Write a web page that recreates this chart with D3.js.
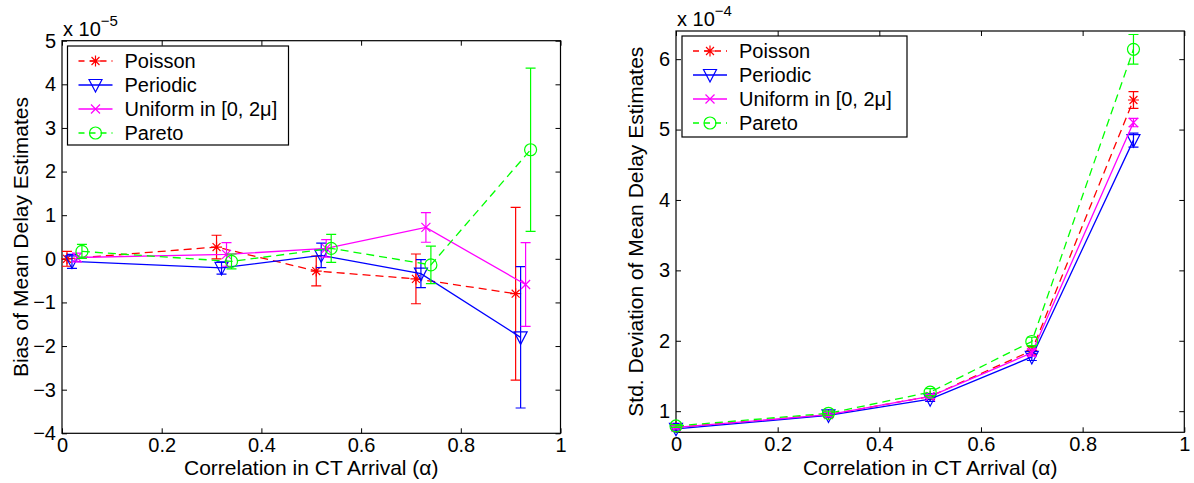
<!DOCTYPE html>
<html>
<head>
<meta charset="utf-8">
<script src="https://cdn.jsdelivr.net/npm/d3@7"></script>
<style>
  body { margin: 0; background: #fff; }
  svg { display: block; font-family: "Liberation Sans", Arial, Helvetica, sans-serif; }
  .tick text { fill: #000; }
  .tick line, .domain { stroke: #000; }
</style>
</head>
<body>
<svg id="chart" width="1194" height="483"></svg>
<script>
// --- data: left panel (bias, x 1e-5) ---
const seriesNames = ["Poisson", "Periodic", "Uniform in [0, 2\u03bc]", "Pareto"];

const biasAlphaPoisson  = [0.01, 0.31, 0.51, 0.71, 0.91];
const biasAlphaPeriodic = [0.02, 0.32, 0.52, 0.72, 0.92];
const biasAlphaUniform  = [0.03, 0.33, 0.53, 0.73, 0.93];
const biasAlphaPareto   = [0.04, 0.34, 0.54, 0.74, 0.94];

const biasPoisson  = [0.00, 0.27, -0.28, -0.46, -0.80];
const biasPeriodic = [-0.06, -0.21, 0.08, -0.34, -1.80];
const biasUniform  = [0.03, 0.10, 0.24, 0.72, -0.59];
const biasPareto   = [0.17, -0.06, 0.24, -0.14, 2.50];

const biasErrPoisson  = [0.17, 0.27, 0.34, 0.57, 1.98];
const biasErrPeriodic = [0.16, 0.14, 0.28, 0.32, 1.62];
const biasErrUniform  = [0.10, 0.27, 0.20, 0.34, 0.96];
const biasErrPareto   = [0.16, 0.17, 0.32, 0.43, 1.87];

// --- data: right panel (std. deviation, x 1e-4) ---
const stdAlpha = [0, 0.3, 0.5, 0.7, 0.9];

const stdPoisson  = [0.77, 0.95, 1.21, 1.86, 5.42];
const stdPeriodic = [0.75, 0.94, 1.17, 1.77, 4.85];
const stdUniform  = [0.77, 0.95, 1.21, 1.83, 5.10];
const stdPareto   = [0.79, 0.97, 1.27, 1.99, 6.14];

const stdErrPoisson  = [0.03, 0.03, 0.04, 0.06, 0.12];
const stdErrPeriodic = [0.02, 0.03, 0.03, 0.05, 0.10];
const stdErrUniform  = [0.02, 0.03, 0.03, 0.05, 0.06];
const stdErrPareto   = [0.02, 0.03, 0.05, 0.06, 0.21];

// --- ticks ---
const xTicks = [0, 0.2, 0.4, 0.6, 0.8, 1];
const xTickLabels = ["0", "0.2", "0.4", "0.6", "0.8", "1"];
const biasTicks = [-4, -3, -2, -1, 0, 1, 2, 3, 4, 5];
const biasTickLabels = ["\u22124", "\u22123", "\u22122", "\u22121", "0", "1", "2", "3", "4", "5"];
const stdTicks = [1, 2, 3, 4, 5, 6];
const stdTickLabels = ["1", "2", "3", "4", "5", "6"];

const xLabel = "Correlation in CT Arrival (\u03b1)";

const styles = [
    { color: "#ff0000", dash: "8,5", marker: "star" },
    { color: "#0000ff", dash: null, marker: "tri" },
    { color: "#ff00ff", dash: null, marker: "x" },
    { color: "#00ff00", dash: "8,5", marker: "circle" }
];

const svg = d3.select("#chart");

function drawMarker(g, type, cx, cy, color) {
    if (type === "star") {
        const r = 5.5, d = r * 0.72;
        g.append("path")
            .attr("d", `M${cx - r},${cy}H${cx + r}M${cx},${cy - r}V${cy + r}` +
                `M${cx - d},${cy - d}L${cx + d},${cy + d}M${cx - d},${cy + d}L${cx + d},${cy - d}`)
            .attr("stroke", color).attr("stroke-width", 1.2).attr("fill", "none");
    } else if (type === "x") {
        const d = 4.5;
        g.append("path")
            .attr("d", `M${cx - d},${cy - d}L${cx + d},${cy + d}M${cx - d},${cy + d}L${cx + d},${cy - d}`)
            .attr("stroke", color).attr("stroke-width", 1.2).attr("fill", "none");
    } else if (type === "tri") {
        const w = 6.5, h = 5.5;
        g.append("path")
            .attr("d", `M${cx - w},${cy - h}L${cx + w},${cy - h}L${cx},${cy + h + 1.5}Z`)
            .attr("stroke", color).attr("stroke-width", 1.2).attr("fill", "none");
    } else {
        g.append("circle")
            .attr("cx", cx).attr("cy", cy).attr("r", 6)
            .attr("stroke", color).attr("stroke-width", 1.2).attr("fill", "none");
    }
}

function drawPanel(p) {
    const x = d3.scaleLinear().domain([0, 1]).range([p.left, p.right]);
    const y = d3.scaleLinear().domain(p.yDomain).range([p.bottom, p.top]);
    const g = svg.append("g");

    // axes with inward ticks on all four sides
    g.append("g")
        .attr("transform", `translate(0,${p.bottom})`)
        .call(d3.axisBottom(x).tickValues(xTicks).tickFormat((d, i) => xTickLabels[i])
            .tickSizeInner(-5).tickSizeOuter(0).tickPadding(5));
    g.append("g")
        .attr("transform", `translate(0,${p.top})`)
        .call(d3.axisTop(x).tickValues(xTicks).tickFormat("").tickSizeInner(-5).tickSizeOuter(0));
    g.append("g")
        .attr("transform", `translate(${p.left},0)`)
        .call(d3.axisLeft(y).tickValues(p.yTicks).tickFormat((d, i) => p.yTickLabels[i])
            .tickSizeInner(-5).tickSizeOuter(0).tickPadding(6));
    g.append("g")
        .attr("transform", `translate(${p.right},0)`)
        .call(d3.axisRight(y).tickValues(p.yTicks).tickFormat("").tickSizeInner(-5).tickSizeOuter(0));
    g.selectAll(".tick text").attr("font-size", 20);
    g.selectAll(".domain").remove();

    g.append("rect")
        .attr("x", p.left).attr("y", p.top)
        .attr("width", p.right - p.left).attr("height", p.bottom - p.top)
        .attr("fill", "none").attr("stroke", "#000").attr("stroke-width", 1.2);

    // series
    p.series.forEach((s, k) => {
        const st = styles[k];
        const pts = s.xs.map((xv, i) => ({ x: xv, y: s.ys[i], e: s.es[i] }));
        const sg = g.append("g");
        pts.forEach(d => {
            const cx = x(d.x);
            sg.append("path")
                .attr("d", `M${cx},${y(d.y - d.e)}V${y(d.y + d.e)}` +
                    `M${cx - 5},${y(d.y - d.e)}H${cx + 5}M${cx - 5},${y(d.y + d.e)}H${cx + 5}`)
                .attr("stroke", st.color).attr("stroke-width", 1.2).attr("fill", "none");
        });
        sg.append("path")
            .datum(pts)
            .attr("d", d3.line().x(d => x(d.x)).y(d => y(d.y)))
            .attr("fill", "none")
            .attr("stroke", st.color)
            .attr("stroke-width", 1.3)
            .attr("stroke-dasharray", st.dash);
        pts.forEach(d => drawMarker(sg, st.marker, x(d.x), y(d.y), st.color));
    });

    // exponent label
    const ex = g.append("text")
        .attr("x", p.left + 1).attr("y", p.expY)
        .attr("font-size", 20);
    ex.append("tspan").text("x 10");
    ex.append("tspan").attr("dy", -10).attr("font-size", 15).text(p.exp);

    // axis labels
    g.append("text")
        .attr("x", (p.left + p.right) / 2).attr("y", 475)
        .attr("text-anchor", "middle").attr("font-size", 21)
        .text(xLabel);
    g.append("text")
        .attr("transform", `translate(${p.yLabelX},${(p.top + p.bottom) / 2}) rotate(-90)`)
        .attr("text-anchor", "middle").attr("font-size", 21)
        .text(p.yLabel);

    // legend
    const lg = g.append("g").attr("transform", `translate(${p.legX},${p.legY})`);
    lg.append("rect")
        .attr("width", p.legW).attr("height", p.legH)
        .attr("fill", "#fff").attr("stroke", "#000").attr("stroke-width", 1.2);
    seriesNames.forEach((name, k) => {
        const st = styles[k];
        const ry = 15 + k * 24;
        lg.append("line")
            .attr("x1", 11).attr("x2", 45).attr("y1", ry).attr("y2", ry)
            .attr("stroke", st.color).attr("stroke-width", 1.3)
            .attr("stroke-dasharray", st.dash ? "6,5" : null);
        drawMarker(lg, st.marker, 28, ry, st.color);
        lg.append("text")
            .attr("x", 57).attr("y", ry + 7)
            .attr("font-size", 20)
            .text(name);
    });
}

drawPanel({
    left: 62, right: 560.5, top: 40.7, bottom: 433.3,
    yDomain: [-4, 5], yTicks: biasTicks, yTickLabels: biasTickLabels,
    exp: "\u22125", expY: 36,
    yLabel: "Bias of Mean Delay Estimates", yLabelX: 28,
    legX: 67.5, legY: 46, legW: 221, legH: 99,
    series: [
        { xs: biasAlphaPoisson, ys: biasPoisson, es: biasErrPoisson },
        { xs: biasAlphaPeriodic, ys: biasPeriodic, es: biasErrPeriodic },
        { xs: biasAlphaUniform, ys: biasUniform, es: biasErrUniform },
        { xs: biasAlphaPareto, ys: biasPareto, es: biasErrPareto }
    ]
});

drawPanel({
    left: 676, right: 1184.3, top: 31, bottom: 432.3,
    yDomain: [0.7, 6.4], yTicks: stdTicks, yTickLabels: stdTickLabels,
    exp: "\u22124", expY: 26,
    yLabel: "Std. Deviation of Mean Delay Estimates", yLabelX: 643,
    legX: 682, legY: 36, legW: 225, legH: 101,
    series: [
        { xs: stdAlpha, ys: stdPoisson, es: stdErrPoisson },
        { xs: stdAlpha, ys: stdPeriodic, es: stdErrPeriodic },
        { xs: stdAlpha, ys: stdUniform, es: stdErrUniform },
        { xs: stdAlpha, ys: stdPareto, es: stdErrPareto }
    ]
});
</script>
</body>
</html>
